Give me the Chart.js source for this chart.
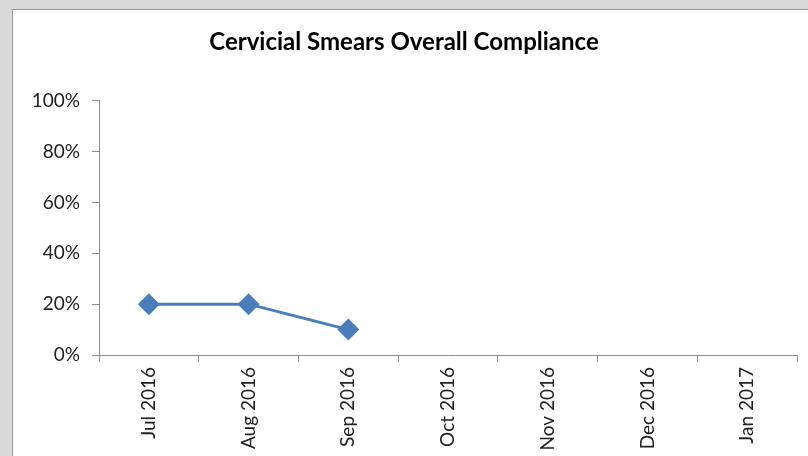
<!DOCTYPE html>
<html>
<head>
<meta charset="utf-8">
<script src="https://cdn.jsdelivr.net/npm/chart.js@4"></script>
<style>
  html, body { margin: 0; padding: 0; background: #d9d9d9; overflow: hidden; }
  #panel { position: absolute; left: 12px; top: 9px; width: 810px; height: 460px; background: #fff; border: 1px solid #9a9a9a; }
  #wrap { position: absolute; left: 0; top: 0; width: 808px; height: 456px; }
</style>
</head>
<body>
<div id="panel"></div>
<div id="wrap"><canvas id="complianceChart" width="808" height="456"></canvas></div>
<script>
// data
const months = ['Jul 2016', 'Aug 2016', 'Sep 2016', 'Oct 2016', 'Nov 2016', 'Dec 2016', 'Jan 2017'];
const compliance = [20, 20, 10, null, null, null, null];
const yTicks = [0, 20, 40, 60, 80, 100];

document.addEventListener('DOMContentLoaded', function() {
    const ctx = document.getElementById('complianceChart');
    new Chart(ctx, {
        type: 'line',
        data: {
            labels: months,
            datasets: [{
                label: 'Compliance',
                data: compliance,
                borderColor: '#4a7ebb',
                backgroundColor: '#4a7ebb',
                borderWidth: 3,
                pointStyle: 'rectRot',
                pointRadius: 11,
                pointBorderWidth: 0,
                tension: 0,
                spanGaps: false
            }]
        },
        options: {
            responsive: false,
            animation: false,
            layout: { padding: { left: 0, right: 0, top: 0, bottom: 0 } },
            plugins: {
                legend: { display: false },
                tooltip: { enabled: false },
                title: {
                    display: true,
                    text: 'Cervicial Smears Overall Compliance',
                    color: '#000',
                    font: { family: 'Lato', size: 24, weight: 'bold' },
                    padding: { top: 28, bottom: 44 }
                }
            },
            scales: {
                x: {
                    offset: true,
                    grid: { offset: true, drawOnChartArea: false, drawTicks: true, tickLength: 7, color: '#8c8c8c' },
                    border: { color: '#8c8c8c', width: 1 },
                    ticks: {
                        color: '#222',
                        font: { family: 'Lato', size: 19 },
                        minRotation: 90,
                        maxRotation: 90,
                        padding: 5
                    },
                    afterFit: function(scale) { scale.height = 101; }
                },
                y: {
                    min: 0,
                    max: 100,
                    afterBuildTicks: function(scale) {
                        scale.ticks = yTicks.map(v => ({ value: v }));
                    },
                    grid: { drawOnChartArea: false, drawTicks: true, tickLength: 7, color: '#8c8c8c' },
                    border: { color: '#8c8c8c', width: 1 },
                    ticks: {
                        color: '#222',
                        font: { family: 'Lato', size: 19 },
                        padding: 12,
                        callback: function(value) { return value + '%'; }
                    },
                    afterFit: function(scale) { scale.width = 99; }
                }
            }
        }
    });
});
</script>
</body>
</html>
